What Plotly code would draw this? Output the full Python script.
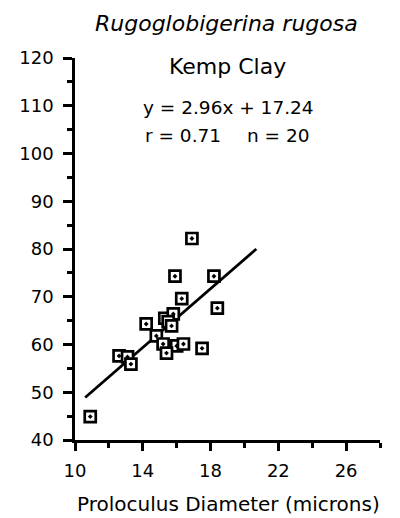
import plotly.graph_objects as go

# Data
diameter = [16.9, 15.9, 18.2, 16.3, 18.4, 15.3, 15.8, 14.2, 15.5, 15.7,
            14.8, 16.0, 15.2, 16.4, 15.4, 17.5, 12.6, 13.1, 13.3, 10.9]
length = [82.2, 74.3, 74.3, 69.6, 67.6, 65.5, 66.4, 64.3, 64.8, 63.9,
          61.8, 59.7, 60.1, 60.1, 58.2, 59.2, 57.6, 57.4, 55.9, 44.9]
fit_x = [10.6, 20.7]
fit_y = [48.9, 80.0]

x_ticks = [10, 14, 18, 22, 26]
y_ticks = [40, 50, 60, 70, 80, 90, 100, 110, 120]

FONT = "DejaVu Sans"

fig = go.Figure()
fig.add_trace(go.Scatter(x=fit_x, y=fit_y, mode="lines",
                         line=dict(color="black", width=2.8),
                         hoverinfo="skip", showlegend=False))
fig.add_trace(go.Scatter(x=diameter, y=length, mode="markers",
                         marker=dict(symbol="square-dot", size=11, color="white",
                                     line=dict(color="black", width=2.7)),
                         showlegend=False))

L, R, T, B = 75, 20, 58, 78
W, H = 400, 518
pw, ph = W - L - R, H - T - B

def px(xp):
    return (xp - L) / pw

def py(yp):
    return (H - B - yp) / ph

fig.update_layout(
    width=W, height=H,
    margin=dict(l=L, r=R, t=T, b=B),
    paper_bgcolor="white", plot_bgcolor="white",
    font=dict(family=FONT, color="black", size=18),
    xaxis=dict(range=[10, 28], tickvals=x_ticks, ticks="outside", ticklen=8,
               tickwidth=2.5, tickcolor="black", showline=True, linewidth=2.5,
               linecolor="black", showgrid=False, zeroline=False,
               ticklabelstandoff=5,
               tickfont=dict(size=18, family=FONT),
               minor=dict(tickvals=[12, 16, 20, 24, 28], ticks="outside",
                          ticklen=5, tickwidth=2.5, tickcolor="black")),
    yaxis=dict(range=[40, 120], tickvals=y_ticks, ticks="outside", ticklen=9,
               tickwidth=2.5, tickcolor="black", showline=True, linewidth=2.5,
               linecolor="black", showgrid=False, zeroline=False,
               ticklabelstandoff=6,
               tickfont=dict(size=18, family=FONT),
               minor=dict(tickvals=[45, 55, 65, 75, 85, 95, 105, 115],
                          ticks="outside", ticklen=5, tickwidth=2.5,
                          tickcolor="black")),
)

ann = [
    dict(text="<i>Rugoglobigerina rugosa</i>", x=px(226), y=py(23), size=22),
    dict(text="Kemp Clay", x=px(227), y=py(66), size=22),
    dict(text="y = 2.96x + 17.24", x=px(228), y=py(107), size=18.5),
    dict(text="Proloculus Diameter (microns)", x=px(228), y=py(504), size=20),
]
for a in ann:
    fig.add_annotation(text=a["text"], x=a["x"], y=a["y"], xref="paper", yref="paper",
                       xanchor="center", yanchor="middle", showarrow=False,
                       font=dict(family=FONT, size=a["size"], color="black"))
fig.add_annotation(text="r = 0.71", x=px(143), y=py(135), xref="paper", yref="paper",
                   xanchor="left", yanchor="middle", showarrow=False,
                   font=dict(family=FONT, size=18.5, color="black"))
fig.add_annotation(text="n = 20", x=px(312), y=py(135), xref="paper", yref="paper",
                   xanchor="right", yanchor="middle", showarrow=False,
                   font=dict(family=FONT, size=18.5, color="black"))

fig.write_html("out.html", config={"displayModeBar": False},
               post_script="document.body.style.margin='0';")
